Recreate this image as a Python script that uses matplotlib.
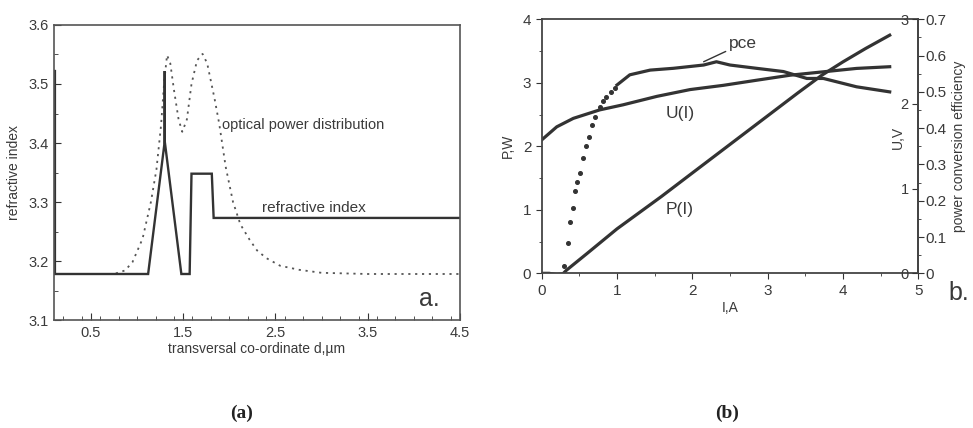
import matplotlib
matplotlib.use("Agg")
import matplotlib.pyplot as plt
from matplotlib.ticker import MultipleLocator, FuncFormatter

plt.rcParams['font.family'] = ['Liberation Sans', 'DejaVu Sans']
ink = '#333333'
txt = '#3a3a3a'

# (a) refractive index profile across the layer stack
ri_d = [0.10, 0.11, 0.11, 1.12, 1.30, 1.30, 1.30, 1.48, 1.57, 1.59, 1.81, 1.83, 4.5]
ri_n = [3.522, 3.522, 3.178, 3.178, 3.403, 3.522, 3.403, 3.178, 3.178, 3.348, 3.348, 3.273, 3.273]

# (a) optical power distribution (drawn on the index scale)
opt_d = [0.77, 0.87, 0.95, 1.06, 1.15, 1.21, 1.26, 1.295, 1.325, 1.36, 1.40, 1.45, 1.49,
         1.54, 1.59, 1.65, 1.71, 1.76, 1.84, 1.89, 1.96, 2.04, 2.12, 2.22, 2.30, 2.40,
         2.55, 2.76, 3.0, 3.5, 4.5]
opt_n = [3.179, 3.184, 3.198, 3.238, 3.300, 3.355, 3.430, 3.505, 3.549, 3.535, 3.49, 3.44, 3.419,
         3.44, 3.50, 3.54, 3.551, 3.535, 3.475, 3.433, 3.36, 3.30, 3.262, 3.236, 3.218, 3.205,
         3.192, 3.185, 3.180, 3.178, 3.178]

# (b) output power, voltage and efficiency vs current
p_i = [0.0, 0.10, 0.20, 0.28, 0.33, 0.60, 1.00, 1.59, 2.00, 2.50, 3.00, 3.40, 3.72, 4.00, 4.30, 4.62]
p_w = [0.0, 0.0, -0.02, -0.01, 0.05, 0.31, 0.70, 1.21, 1.58, 2.03, 2.48, 2.84, 3.12, 3.33, 3.54, 3.75]

u_i = [0.0, 0.20, 0.42, 0.77, 1.08, 1.53, 1.97, 2.41, 2.85, 3.30, 3.74, 4.18, 4.62]
u_v = [1.575, 1.73, 1.83, 1.93, 1.99, 2.09, 2.17, 2.22, 2.28, 2.34, 2.38, 2.42, 2.44]

pce_i_low = [0.296, 0.345, 0.38, 0.416, 0.447, 0.469, 0.509, 0.548, 0.588, 0.628, 0.67,
             0.71, 0.77, 0.82, 0.86, 0.92, 0.97]
pce_low = [0.020, 0.083, 0.142, 0.179, 0.227, 0.251, 0.276, 0.319, 0.352, 0.376, 0.41,
           0.432, 0.459, 0.475, 0.487, 0.50, 0.51]
pce_i = [1.00, 1.17, 1.44, 1.75, 2.15, 2.32, 2.50, 2.85, 3.21, 3.52, 3.74, 4.18, 4.62]
pce = [0.519, 0.547, 0.560, 0.565, 0.574, 0.583, 0.574, 0.565, 0.556, 0.537, 0.537, 0.514, 0.50]

fig = plt.figure(figsize=(9.73, 4.28), dpi=100)

# ---- panel (a) ----
ax = fig.add_axes([0.0555, 0.2523, 0.4173, 0.6893])
ax.plot(opt_d, opt_n, color='#555555', lw=1.3, linestyle=(0, (1.2, 2.6)))
ax.plot(ri_d, ri_n, color=ink, lw=1.7, solid_joinstyle='miter')
ax.set_xlim(0.1, 4.5)
ax.set_ylim(3.1, 3.6)
ax.set_xticks([0.5, 1.5, 2.5, 3.5, 4.5])
ax.xaxis.set_minor_locator(MultipleLocator(0.2))
ax.yaxis.set_major_locator(MultipleLocator(0.1))
ax.yaxis.set_minor_locator(MultipleLocator(0.05))
ax.tick_params(which='both', direction='in', colors=ink, labelcolor=txt, labelsize=10.5)
ax.tick_params(which='major', length=5)
ax.tick_params(which='minor', length=3)
ax.tick_params(axis='x', pad=4)
for s in ax.spines.values():
    s.set_color('#555555')
    s.set_linewidth(1.2)
ax.set_xlabel('transversal co-ordinate d,\u00b5m', fontsize=10, color=txt, labelpad=2)
ax.set_ylabel('refractive index', fontsize=10, color=txt, labelpad=6)
ax.text(1.92, 3.431, 'optical power distribution', fontsize=10.5, color=txt, va='center')
ax.text(2.35, 3.29, 'refractive index', fontsize=11, color=txt, va='center')
ax.text(4.05, 3.135, 'a.', fontsize=18, color=txt, va='center')

# ---- panel (b) ----
bx = fig.add_axes([0.5567, 0.3614, 0.3871, 0.5935])
bx.plot(p_i, p_w, color=ink, lw=2.3)
bx.plot(u_i, [v * 4 / 3 for v in u_v], color=ink, lw=2.3)
bx.set_xlim(0, 5)
bx.set_ylim(0, 4)
bx.xaxis.set_major_locator(MultipleLocator(1))
bx.yaxis.set_major_locator(MultipleLocator(1))
bx.xaxis.set_minor_locator(MultipleLocator(0.5))
bx.yaxis.set_minor_locator(MultipleLocator(0.5))
bx.tick_params(which='both', direction='out', colors=ink, labelcolor=txt, labelsize=11)
bx.tick_params(which='major', length=4)
bx.tick_params(which='minor', length=2)
for s in bx.spines.values():
    s.set_color('#444444')
    s.set_linewidth(1.3)
bx.set_xlabel('I,A', fontsize=10, color=txt, labelpad=2)
bx.set_ylabel('P,W', fontsize=10, color=txt, labelpad=6)

# voltage scale: labels sit inside the right spine
ux = bx.twinx()
ux.set_ylim(0, 3)
ux.set_yticks([0, 1, 2, 3])
ux.tick_params(direction='in', length=4, colors=ink, labelcolor=txt, labelsize=10.5, pad=-7)
for lab in ux.get_yticklabels():
    lab.set_horizontalalignment('right')
ux.spines[:].set_visible(False)
ux.text(0.946, 0.533, 'U,V', transform=ux.transAxes, rotation=90, fontsize=10,
        color=txt, ha='center', va='center')

# efficiency scale on the outside of the right spine
ex = bx.twinx()
ex.plot(pce_i_low, pce_low, linestyle='none', marker='o', ms=2.6, color=ink)
ex.plot(pce_i, pce, color=ink, lw=2.3)
ex.set_ylim(0, 0.7)
ex.yaxis.set_major_locator(MultipleLocator(0.1))
ex.yaxis.set_minor_locator(MultipleLocator(0.05))
ex.tick_params(which='both', direction='out', colors=ink, labelcolor=txt, labelsize=11, pad=1)
ex.tick_params(which='major', length=4)
ex.tick_params(which='minor', length=2)
ex.yaxis.set_major_formatter(FuncFormatter(lambda v, p: '%g' % round(v, 1)))
ex.spines[:].set_visible(False)
ex.spines['right'].set_visible(True)
ex.spines['right'].set_color('#444444')
ex.spines['right'].set_linewidth(1.3)
ex.set_ylabel('power conversion efficiency', fontsize=10, color=txt, labelpad=4)

ex.annotate('pce', xy=(2.15, 0.583), xytext=(2.48, 0.633), fontsize=12.5, color=txt,
            ha='left', va='center',
            arrowprops=dict(arrowstyle='-', color=ink, lw=1, shrinkA=0, shrinkB=0))
bx.text(1.65, 2.52, 'U(I)', fontsize=12.5, color=txt, va='center')
bx.text(1.65, 1.0, 'P(I)', fontsize=12.5, color=txt, va='center')
fig.text(0.985, 0.315, 'b.', fontsize=18, color=txt, ha='center', va='center')

# captions
fig.text(0.248, 0.035, '(a)', fontsize=14, fontweight='bold', family='Liberation Serif',
         ha='center', va='center', color='#222222')
fig.text(0.747, 0.035, '(b)', fontsize=14, fontweight='bold', family='Liberation Serif',
         ha='center', va='center', color='#222222')

fig.savefig('out.png', dpi=100, facecolor='white')
